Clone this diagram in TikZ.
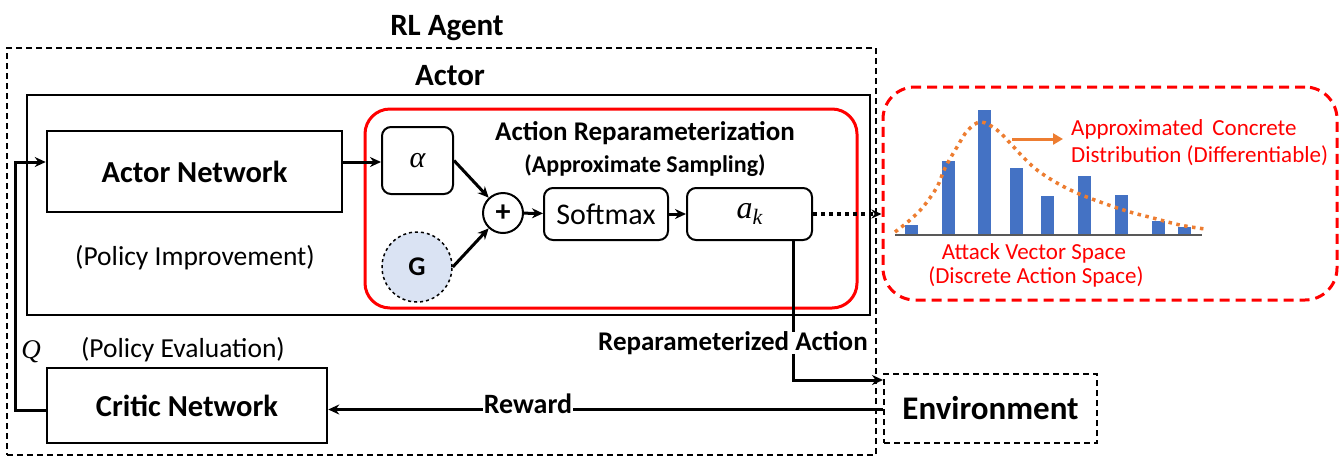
\documentclass[tikz,border=0pt]{standalone}
\usepackage{fontspec}
\setmainfont{Carlito}
\newfontfamily\mfont{Liberation Serif}
\usetikzlibrary{arrows.meta,calc}
\definecolor{redbox}{HTML}{FF0000}
\definecolor{gfill}{HTML}{DAE3F3}
\definecolor{barblue}{HTML}{4472C4}
\definecolor{orng}{HTML}{ED7D31}
\newcommand\fsz[1]{\fontsize{#1}{#1}\selectfont}
\tikzset{
  arr/.style={line width=3pt,-{Stealth[length=11pt,width=10pt]}},
  plain/.style={line width=3pt},
  netbox/.style={draw,line width=2.5pt,inner sep=0pt,font=\fsz{30.5}\bfseries},
  smallbox/.style={draw,line width=2pt,rounded corners=9pt,inner sep=0pt,font=\fsz{30}},
  lbl/.style={inner sep=1pt,font=\fsz{27.5}},
  blbl/.style={inner sep=1pt,font=\fsz{27}\bfseries},
  redtxt/.style={text=redbox,inner sep=0pt,font=\fsz{23}},
}
\begin{document}
\begin{tikzpicture}[x=1pt,y=-1pt]
\useasboundingbox (0,0) rectangle (1344,459);
% containers
\node[draw,dashed,line width=1.5pt,dash pattern=on 6pt off 4pt,minimum width=869pt,minimum height=407pt,inner sep=0pt] (agent) at (441.5,251.5) {};
\node[draw,line width=2pt,minimum width=843pt,minimum height=220pt,inner sep=0pt] (actor) at (448.5,205) {};
\node[draw=redbox,line width=3pt,rounded corners=25pt,minimum width=492pt,minimum height=199pt,inner sep=0pt] (repar) at (611,208.5) {};
\node[draw=redbox,dashed,line width=3pt,dash pattern=on 10pt off 6pt,rounded corners=32pt,minimum width=454pt,minimum height=213pt,inner sep=0pt] (hist) at (1110,193.5) {};
% titles
\node[font=\fsz{31}\bfseries,inner sep=0pt] (tagent) at (447,28) {RL Agent};
\node[font=\fsz{31}\bfseries,inner sep=0pt] (tactor) at (450,76) {Actor};
% nodes
\node[netbox,minimum width=295pt,minimum height=81pt] (an) at (194.5,171.5) {Actor Network};
\node[lbl] (pimp) at (195,258) {(Policy Improvement)};
\node[smallbox,minimum width=71pt,minimum height=67pt] (alpha) at (417.5,160.5) {\fsz{30}\mfont\itshape α};
\node[draw,dashed,line width=1.5pt,circle,fill=gfill,minimum size=70pt,inner sep=0pt,font=\fsz{27}\bfseries] (G) at (417,267) {G};
\node[draw,line width=2pt,circle,minimum size=40pt,inner sep=0pt,font=\fsz{30}\bfseries] (plus) at (503,213) {+};
\node[smallbox,minimum width=124pt,minimum height=52pt] (soft) at (606,214) {Softmax};
\node[smallbox,minimum width=125pt,minimum height=52pt] (ak) at (749.5,214) {\fsz{32}\mfont\itshape a\raisebox{-6pt}{\fsz{22}k}};
\node[font=\fsz{27}\bfseries,inner sep=0pt] (tar) at (645,133) {Action Reparameterization};
\node[font=\fsz{24}\bfseries,inner sep=0pt] (tas) at (645,166) {(Approximate Sampling)};
\node[netbox,minimum width=280pt,minimum height=75pt] (critic) at (187,405.5) {Critic Network};
\node[lbl] (peval) at (183,350) {(Policy Evaluation)};
\node[lbl] (q) at (31,352) {\fsz{27}\mfont\itshape Q};
\node[draw,dashed,line width=2pt,dash pattern=on 6pt off 4pt,minimum width=213pt,minimum height=69pt,inner sep=0pt,font=\fsz{33}\bfseries] (env) at (990.5,408.5) {Environment};
% connectors
\draw[arr] ([yshift=9.5pt]an.east) -- ([yshift=9.5pt]an.east -| alpha.west);
\draw[arr] (alpha.east) -- (plus);
\draw[arr] (G.east) -- (plus);
\draw[arr] (plus) -- (soft);
\draw[arr] (soft) -- (ak);
\draw[line width=3.5pt,dash pattern=on 4pt off 4pt,-{Stealth[length=10pt,width=9pt]}] (ak.east) -- (ak.east -| hist.west);
\coordinate (lx) at (793,0);
\node[blbl] (ract) at (733,343) {Reparameterized Action};
\draw[plain] (ak.south -| lx) -- ([yshift=-2pt]ract.north -| lx);
\draw[arr] ([yshift=2pt]ract.south -| lx) |- ([yshift=-7pt]env.north west);
\node[blbl,font=\fsz{28}\bfseries] (rew) at (528,404) {Reward};
\draw[plain] ([yshift=-1pt]env.west) -- ([yshift=-1pt]env.west -| rew.east);
\draw[arr] ([yshift=-1pt]env.west -| rew.west) -- ([yshift=-1pt]env.west -| critic.east);
\draw[arr] ([yshift=-4.5pt]critic.west) -- ++(-30,0) |- ([yshift=9.5pt]an.west);
% histogram
\foreach \xa/\top in {905/225,942/161,978/110,1010/168,1041/196,1078/176,1115/195,1152/221,1178/227}{
  \fill[barblue] (\xa,234) rectangle ++(13,{\top-234});
}
\draw[line width=2pt,black!65] (895,234.5) -- (1202,234.5);
\draw[orng,line width=3.5pt,dash pattern=on 3.5pt off 4.5pt] plot[smooth,tension=0.6] coordinates {(895,232) (910,220) (923,207) (937,187) (945,168) (957,147) (968,130) (981,122) (997,130) (1010,143) (1023,157) (1037,170) (1057,183) (1077,193) (1103,203) (1130,212) (1153,218) (1180,225) (1205,229)};
\draw[orng,line width=3pt,-{Triangle[length=10pt,width=11pt]}] (1012,139) -- (1063,139);
\node[redtxt,anchor=west] (t1) at (1071,129) {Approximated\, Concrete};
\node[redtxt,anchor=west] (t2) at (1071,156) {Distribution (Differentiable)};
\node[redtxt] (t3) at (1034,253) {Attack Vector Space};
\node[redtxt] (t4) at (1036,277) {(Discrete Action Space)};
\end{tikzpicture}
\end{document}
